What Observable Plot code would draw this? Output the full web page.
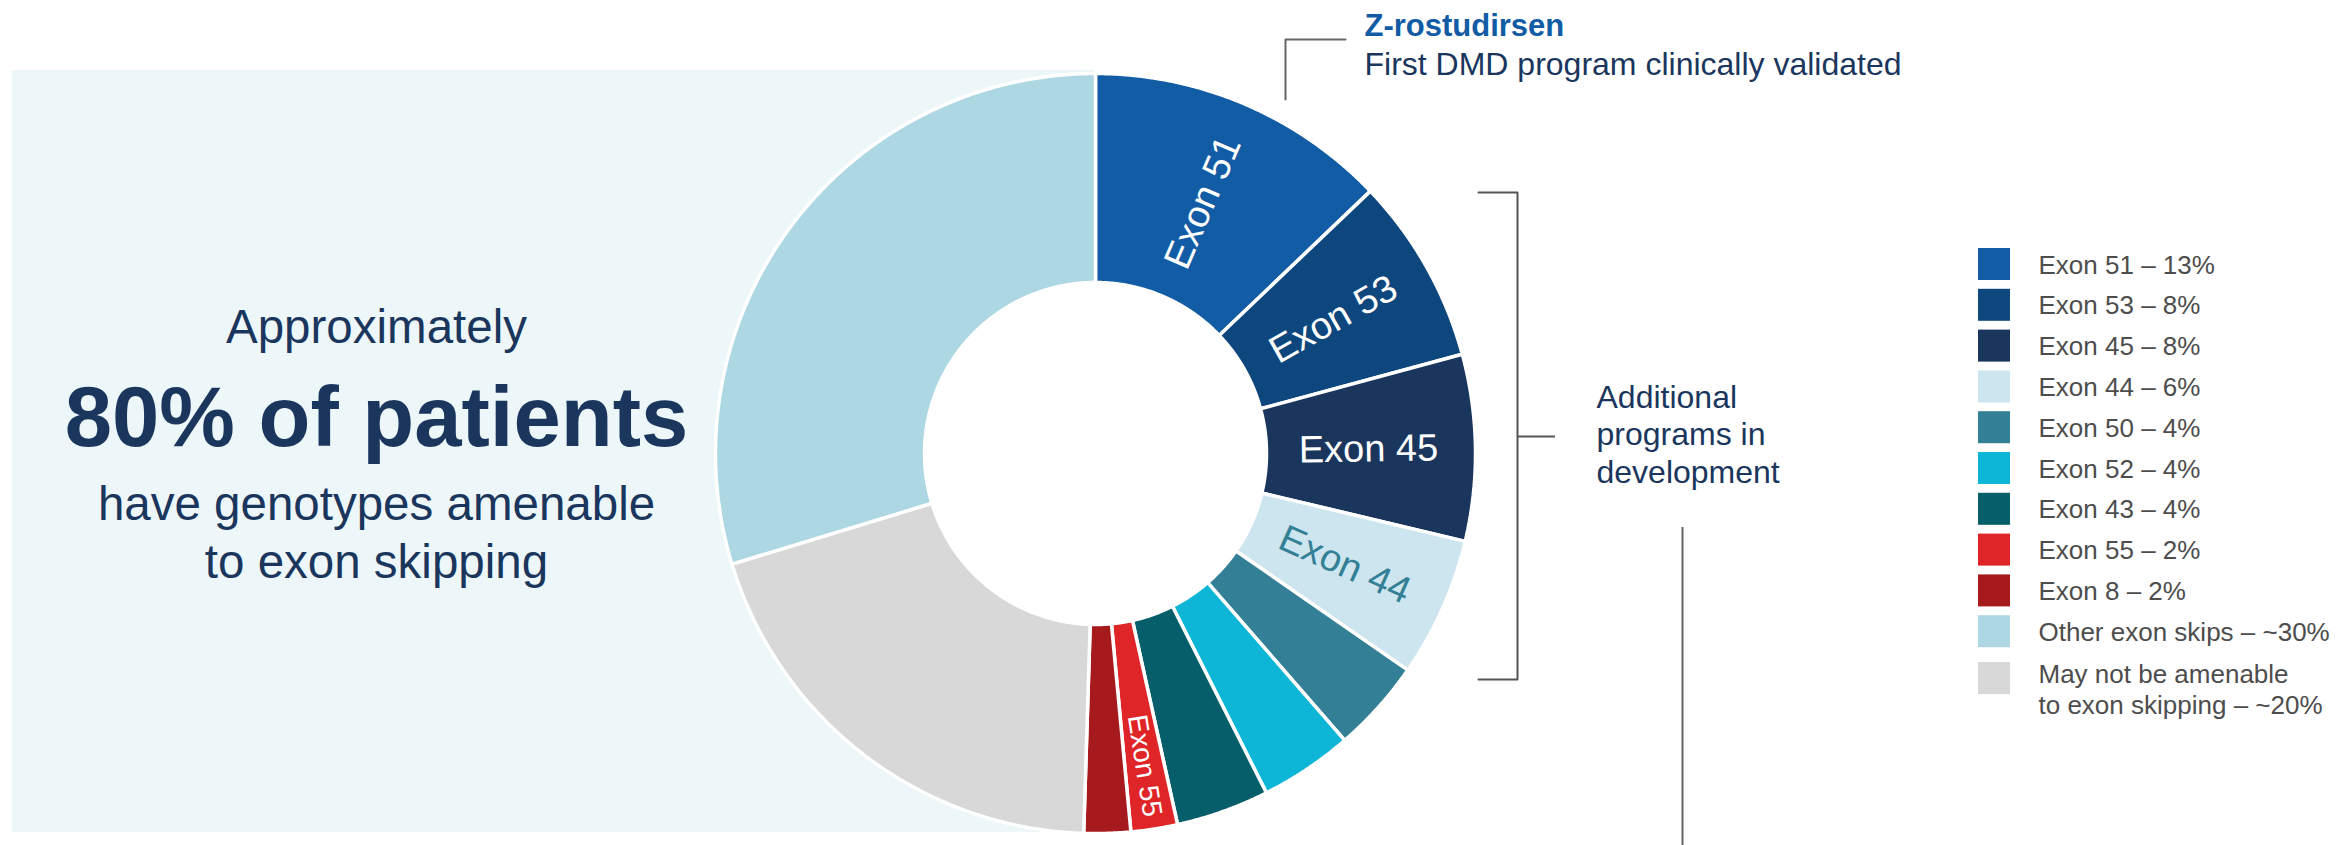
<!DOCTYPE html>
<html>
<head>
<meta charset="utf-8">
<script src="https://cdn.jsdelivr.net/npm/d3@7"></script>
<script src="https://cdn.jsdelivr.net/npm/@observablehq/plot@0.6"></script>
<style>
  html, body { margin: 0; padding: 0; background: #ffffff; overflow: hidden; }
  #chart svg { display: block; }
</style>
</head>
<body>
<div id="chart"></div>
<script>
// ---------- DATA ----------
const categories = ["Exon 51", "Exon 53", "Exon 45", "Exon 44", "Exon 50", "Exon 52", "Exon 43", "Exon 55", "Exon 8", "Other exon skips", "May not be amenable"];
const values     = [13, 8, 8, 6, 4, 4, 4, 2, 2, 30, 20];
const legendLabels = ["Exon 51 – 13%", "Exon 53 – 8%", "Exon 45 – 8%", "Exon 44 – 6%", "Exon 50 – 4%", "Exon 52 – 4%", "Exon 43 – 4%", "Exon 55 – 2%", "Exon 8 – 2%", "Other exon skips – ~30%", "May not be amenable\nto exon skipping – ~20%"];
const colors     = ["#125ca5", "#0e467e", "#1b365d", "#cce5ee", "#337f95", "#0db5d6", "#055e69", "#df2527", "#a6191c", "#add7e3", "#d8d8d8"];
// clockwise order of the ring, starting at 12 o'clock
const ringOrder  = ["Exon 51", "Exon 53", "Exon 45", "Exon 44", "Exon 50", "Exon 52", "Exon 43", "Exon 55", "Exon 8", "May not be amenable", "Other exon skips"];
// slices carrying a label inside the ring
const bigLabels   = ["Exon 51", "Exon 53", "Exon 45", "Exon 44"];
const smallLabels = ["Exon 55"];

// ---------- LAYOUT ----------
const W = 2338, H = 845;
const font = "'Liberation Sans', Arial, Helvetica, sans-serif";
const navy = "#1b365d";
const C = {cx: 1095, cy: 453, rOuter: 380, rInner: 171, rLabel: 273, rLabelSmall: 316};
const panel = [{x1: 12, x2: 1094, y1: 70, y2: 832}];
const LG = {x: 1978, size: 32, top: 248, step: 40.8, extra: 6, textX: 2038};

// ---------- GEOMETRY FROM DATA ----------
const valueOf = new Map(categories.map((c, i) => [c, values[i]]));
const pie = d3.pie().sort(null).value(d => d.value).startAngle(0).endAngle(2 * Math.PI);
const arcs = pie(ringOrder.map(name => ({name, value: valueOf.get(name)})));

const px = (r, a) => C.cx + r * Math.sin(a);
const py = (r, a) => C.cy - r * Math.cos(a);

const slicePts = [];
for (const a of arcs) {
  const n = Math.max(4, Math.ceil((a.endAngle - a.startAngle) / (Math.PI / 720)));
  for (let i = 0; i <= n; i++) {
    const t = a.startAngle + (a.endAngle - a.startAngle) * i / n;
    slicePts.push({name: a.data.name, x: px(C.rOuter, t), y: py(C.rOuter, t)});
  }
  for (let i = n; i >= 0; i--) {
    const t = a.startAngle + (a.endAngle - a.startAngle) * i / n;
    slicePts.push({name: a.data.name, x: px(C.rInner, t), y: py(C.rInner, t)});
  }
}

function labelData(names, r) {
  return arcs.filter(a => names.includes(a.data.name)).map(a => {
    const m = (a.startAngle + a.endAngle) / 2;
    return {text: a.data.name, x: px(r, m), y: py(r, m), rotate: m * 180 / Math.PI - 90,
            fill: a.data.name === "Exon 44" ? "#337f95" : "#ffffff"};
  });
}
const bigLab = labelData(bigLabels, C.rLabel);
const smallLab = labelData(smallLabels, C.rLabelSmall);

const legend = categories.map((name, i) => {
  const top = LG.top + LG.step * i + (i === categories.length - 1 ? LG.extra : 0);
  const lines = legendLabels[i].split("\n").length;
  return {name, label: legendLabels[i], x1: LG.x, x2: LG.x + LG.size, y1: top, y2: top + LG.size,
          tx: LG.textX, ty: top + (lines > 1 ? 51 : 25)};
});

// ---------- ANNOTATIONS ----------
const leftText = [
  {text: "Approximately", y: 342, weight: "normal"},
  {text: "80% of patients", y: 445, weight: "bold"},
  {text: "have genotypes amenable", y: 519, weight: "normal"},
  {text: "to exon skipping", y: 577, weight: "normal"}
];
const calloutLine = [{x: 1345, y: 39}, {x: 1285, y: 39}, {x: 1285, y: 99}];
const bracketLine = [{x: 1478, y: 192}, {x: 1517, y: 192}, {x: 1517, y: 679}, {x: 1478, y: 679}];
const bracketTick = [{x1: 1517, x2: 1555, y: 436}];
const lowerRule = [{x: 1682, y1: 527, y2: 845}];
const hole = [{x: C.cx, y: C.cy}];

const chart = Plot.plot({
  width: W, height: H,
  margin: 0,
  x: {domain: [0, W], range: [0, W], axis: null},
  y: {domain: [0, H], range: [0, H], axis: null},
  color: {domain: categories, range: colors},
  style: {fontFamily: font, background: "#ffffff"},
  marks: [
    Plot.rect(panel, {x1: "x1", x2: "x2", y1: "y1", y2: "y2", fill: "#edf6f9"}),
    Plot.dot(hole, {x: "x", y: "y", r: C.rInner, fill: "#ffffff", stroke: null}),
    Plot.line(slicePts, {x: "x", y: "y", z: "name", fill: "name", stroke: "#ffffff", strokeWidth: 3.5, strokeLinejoin: "miter", curve: "linear-closed"}),
    Plot.text(bigLab, {x: "x", y: "y", text: "text", rotate: "rotate", fill: "fill", fontSize: 38, fontFamily: font, textAnchor: "middle", lineAnchor: "middle"}),
    Plot.text(smallLab, {x: "x", y: "y", text: "text", rotate: "rotate", fill: "fill", fontSize: 28, fontFamily: font, textAnchor: "middle", lineAnchor: "middle"}),
    // left statement
    Plot.text(leftText.filter(d => d.weight === "normal"), {x: () => 376, y: "y", text: "text", fill: navy, fontSize: 47.5, fontFamily: font, textAnchor: "middle", lineAnchor: "bottom"}),
    Plot.text(leftText.filter(d => d.weight === "bold"), {x: () => 376, y: "y", text: "text", fill: navy, fontSize: 85, fontWeight: "bold", fontFamily: font, textAnchor: "middle", lineAnchor: "bottom"}),
    // top callout
    Plot.line(calloutLine, {x: "x", y: "y", stroke: "#666666", strokeWidth: 2}),
    Plot.text(["Z-rostudirsen"], {x: () => 1364, y: () => 35, text: d => d, fill: "#125ca5", fontSize: 31, fontWeight: "bold", fontFamily: font, textAnchor: "start", lineAnchor: "bottom"}),
    Plot.text(["First DMD program clinically validated"], {x: () => 1364, y: () => 74, text: d => d, fill: navy, fontSize: 32, fontFamily: font, textAnchor: "start", lineAnchor: "bottom"}),
    // bracket
    Plot.line(bracketLine, {x: "x", y: "y", stroke: "#555555", strokeWidth: 2}),
    Plot.ruleY(bracketTick, {x1: "x1", x2: "x2", y: "y", stroke: "#555555", strokeWidth: 2}),
    Plot.text(["Additional\nprograms in\ndevelopment"], {x: () => 1596, y: () => 482, text: d => d, fill: navy, fontSize: 32, lineHeight: 1.16, fontFamily: font, textAnchor: "start", lineAnchor: "bottom"}),
    Plot.ruleX(lowerRule, {x: "x", y1: "y1", y2: "y2", stroke: "#666666", strokeWidth: 2}),
    // legend
    Plot.rect(legend, {x1: "x1", x2: "x2", y1: "y1", y2: "y2", fill: "name"}),
    Plot.text(legend, {x: "tx", y: "ty", text: "label", fill: "#4d4d4d", fontSize: 26, lineHeight: 1.19, fontFamily: font, textAnchor: "start", lineAnchor: "bottom"})
  ]
});
document.getElementById("chart").appendChild(chart);
</script>
</body>
</html>
